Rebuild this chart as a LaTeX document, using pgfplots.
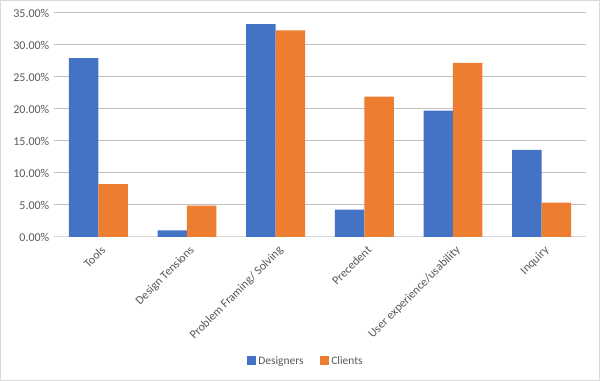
\documentclass[border=0pt]{standalone}
\usepackage{pgfplots}
\pgfplotsset{compat=1.18}
\usepackage{fontspec}
\setmainfont{Carlito}
\definecolor{dblue}{HTML}{4472C4}
\definecolor{corange}{HTML}{ED7D31}
\definecolor{txt}{HTML}{595959}
\definecolor{grid}{HTML}{D9D9D9}
\begin{document}
\begin{tikzpicture}
\path[use as bounding box, draw=grid, line width=0.75pt] (0.375pt,0.375pt) rectangle (449.625pt,285.375pt);
\begin{axis}[
  at={(40.5pt,108pt)}, anchor=south west,
  scale only axis, width=399pt, height=168pt,
  ymin=0, ymax=35, xmin=-0.5, xmax=5.5,
  ytick={0,5,...,35},
  xtick={0,1,2,3,4,5},
  xticklabels={Tools,Design Tensions,Problem Framing/ Solving,Precedent,User experience/usability,Inquiry},
  x tick label style={rotate=45, anchor=north east, font=\fontsize{9}{10}\selectfont, text=txt, inner sep=1pt, xshift=-2pt, yshift=-4pt},
  y tick label style={font=\fontsize{9}{10}\selectfont, text=txt},
  /pgf/number format/assume math mode=true,
  yticklabel={\pgfmathprintnumber[fixed,fixed zerofill,precision=2]{\tick}\%},
  ymajorgrids, xmajorgrids=false, grid style={grid, line width=0.75pt},
  axis x line*=bottom, axis y line*=left,
  x axis line style={grid, line width=0.75pt, -},
  y axis line style={draw=none},
  xtick style={draw=none}, ytick style={draw=none},
  major tick length=0pt,
  ybar=0pt, bar width=22.1pt,
  legend columns=2,
  legend style={at={(0.4737,-0.555)}, anchor=center, draw=none, font=\fontsize{8.6}{10}\selectfont, text=txt, /tikz/every even column/.append style={column sep=10pt}},
  legend image code/.code={\draw[#1, draw=none] (0pt,-3.1pt) rectangle (6.75pt,3.65pt);},
]
\addplot[fill=dblue, draw=none] coordinates {(0,27.95) (1,1.05) (2,33.27) (3,4.29) (4,19.74) (5,13.63)};
\addplot[fill=corange, draw=none] coordinates {(0,8.25) (1,4.92) (2,32.27) (3,21.93) (4,27.21) (5,5.39)};
\legend{Designers, Clients}
\end{axis}
\end{tikzpicture}
\end{document}
